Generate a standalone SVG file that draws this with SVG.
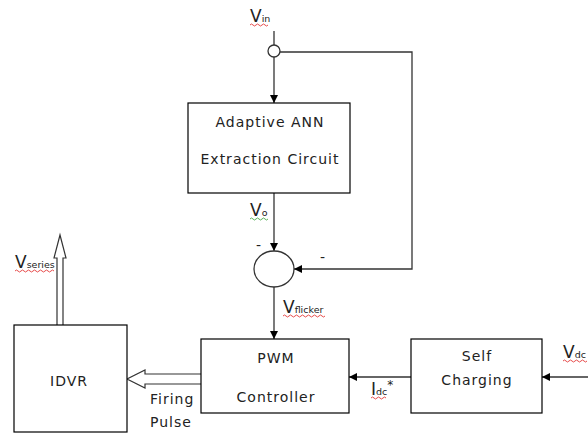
<svg xmlns="http://www.w3.org/2000/svg" width="588" height="433" viewBox="0 0 588 433">
<defs>
<marker id="ah" viewBox="0 0 10 10" refX="10" refY="5" markerWidth="8" markerHeight="8" markerUnits="userSpaceOnUse" orient="auto"><path d="M0,0 L10,5 L0,10 z" fill="#000"/></marker>
<style>
.box{fill:#fff;stroke:#000;stroke-width:1.2}
.ln{fill:none;stroke:#333;stroke-width:1.3}
.t{font-family:"DejaVu Sans","Liberation Sans",sans-serif;font-size:14px;letter-spacing:1px;fill:#222;text-anchor:middle}
.tl{font-family:"DejaVu Sans","Liberation Sans",sans-serif;font-size:14px;letter-spacing:1px;fill:#222}
.lb{font-family:"DejaVu Sans","Liberation Sans",sans-serif;font-size:17px;fill:#222}
.sub{font-size:9.5px}
.sq{fill:none;stroke:#e02020;stroke-width:0.8}
.sqg{fill:none;stroke:#30a030;stroke-width:0.8}
.hollow{fill:#fff;stroke:#333;stroke-width:1.2}
</style>
</defs>
<g id="connectors">
<line class="ln" x1="274" y1="31" x2="274" y2="45"/>
<line class="ln" x1="274" y1="57" x2="274" y2="103" marker-end="url(#ah)"/>
<polyline class="ln" points="280,52 412,52 412,269 294,269" marker-end="url(#ah)"/>
<line class="ln" x1="274" y1="193" x2="274" y2="251" marker-end="url(#ah)"/>
<line class="ln" x1="274" y1="287" x2="274" y2="339" marker-end="url(#ah)"/>
<line class="ln" x1="411" y1="377" x2="349" y2="377" marker-end="url(#ah)"/>
<line class="ln" x1="588" y1="377" x2="542" y2="377" marker-end="url(#ah)"/>
<path class="hollow" d="M201,374 L145,374 L145,370 L127,379 L145,388 L145,384 L201,384"/>
<path class="hollow" d="M57,325 L57,258 L54,258 L60,235 L66,258 L63,258 L63,325"/>
</g>
<g id="junction"><circle cx="274" cy="51" r="6" fill="#fff" stroke="#333" stroke-width="1.3"/></g>
<g id="adaptive">
<rect class="box" x="188" y="103" width="162" height="90"/>
<text class="t" x="270" y="127">Adaptive ANN</text>
<text class="t" x="270" y="164">Extraction Circuit</text>
</g>
<g id="sum">
<ellipse cx="274" cy="269" rx="20" ry="18" fill="#fff" stroke="#333" stroke-width="1.3"/>
<text class="t" x="259" y="250">-</text>
<text class="t" x="323" y="262">-</text>
</g>
<g id="pwm">
<rect class="box" x="201" y="339" width="148" height="74"/>
<text class="t" x="276" y="363">PWM</text>
<text class="t" x="276" y="402">Controller</text>
</g>
<g id="selfcharging">
<rect class="box" x="411" y="339" width="131" height="74"/>
<text class="t" x="477" y="361">Self</text>
<text class="t" x="477" y="385">Charging</text>
</g>
<g id="idvr">
<rect class="box" x="14" y="325" width="113" height="107"/>
<text class="t" x="69" y="386">IDVR</text>
</g>
<g id="labels">
<text class="lb" x="250" y="22">V<tspan class="sub">in</tspan></text>
<path class="sq" d="M250,25 q1.5,-2 3,0 t3,0 t3,0 t3,0 t3,0 t3,0"/>
<text class="lb" x="250" y="216">V<tspan class="sub" font-size="11px">o</tspan></text>
<path class="sqg" d="M250,219 q1.5,-2 3,0 t3,0 t3,0 t3,0 t3,0 t3,0"/>
<text class="lb" x="283" y="313">V<tspan class="sub">flicker</tspan></text>
<path class="sq" d="M283,316 q1.5,-2 3,0 t3,0 t3,0 t3,0 t3,0 t3,0 t3,0 t3,0 t3,0 t3,0 t3,0 t3,0 t3,0 t3,0"/>
<text class="lb" x="371" y="395">I<tspan class="sub" font-size="11px">dc</tspan><tspan dy="-6" font-size="12px">*</tspan></text>
<path class="sq" d="M371,398 q1.5,-2 3,0 t3,0 t3,0 t3,0 t3,0"/>
<text class="lb" x="563" y="358">V<tspan class="sub" font-size="11px">dc</tspan></text>
<path class="sq" d="M563,361 q1.5,-2 3,0 t3,0 t3,0 t3,0 t3,0 t3,0 t3,0 t3,0"/>
<text class="lb" x="15" y="268">V<tspan class="sub">series</tspan></text>
<path class="sq" d="M15,271 q1.5,-2 3,0 t3,0 t3,0 t3,0 t3,0 t3,0 t3,0 t3,0 t3,0 t3,0 t3,0 t3,0 t3,0"/>
<text class="tl" x="150" y="404">Firing</text>
<text class="tl" x="150" y="427">Pulse</text>
</g>
</svg>
